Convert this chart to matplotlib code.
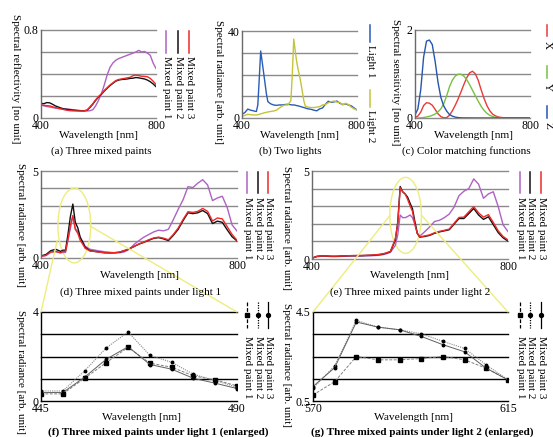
import matplotlib
matplotlib.use("Agg")
import matplotlib.pyplot as plt
from matplotlib.lines import Line2D
from matplotlib.patches import Ellipse, ConnectionPatch
import numpy as np

# ---------------- data ----------------
# (a) spectral reflectivity, 10 nm grid
wl_a = list(range(400, 801, 10))
refl_paint1 = [0.12, 0.11, 0.105, 0.10, 0.095, 0.09, 0.087, 0.085, 0.085, 0.083, 0.08, 0.075, 0.07,
               0.068, 0.066, 0.064, 0.064, 0.066, 0.075, 0.11, 0.16, 0.22, 0.30, 0.39, 0.46, 0.50,
               0.525, 0.54, 0.55, 0.56, 0.57, 0.58, 0.59, 0.60, 0.615, 0.60, 0.605, 0.59, 0.57, 0.50, 0.45]
refl_paint2 = [0.133, 0.13, 0.14, 0.138, 0.125, 0.11, 0.10, 0.09, 0.082, 0.078, 0.074, 0.072, 0.07,
               0.068, 0.066, 0.066, 0.07, 0.095, 0.125, 0.16, 0.19, 0.215, 0.245, 0.27, 0.295, 0.315,
               0.335, 0.345, 0.35, 0.352, 0.355, 0.36, 0.362, 0.368, 0.365, 0.36, 0.355, 0.345, 0.33, 0.31, 0.285]
refl_paint3 = [0.12, 0.115, 0.112, 0.11, 0.102, 0.095, 0.088, 0.082, 0.076, 0.07, 0.067, 0.065, 0.064,
               0.064, 0.064, 0.065, 0.072, 0.10, 0.13, 0.165, 0.195, 0.22, 0.25, 0.275, 0.30, 0.32,
               0.34, 0.35, 0.355, 0.36, 0.365, 0.37, 0.385, 0.39, 0.385, 0.38, 0.378, 0.375, 0.36, 0.335, 0.305]

# (b) two lights
wl_light = [400, 410, 420, 430, 440, 445, 450, 455, 460, 465, 470, 475, 480, 485, 490,
            500, 510, 520, 530, 540, 550, 560, 570, 575, 580, 585, 590, 595, 600, 605, 610, 615,
            620, 630, 640, 650, 660, 670, 680, 690, 700, 710, 720, 730, 740, 750, 760, 770, 780, 790, 800]
light1 = [1.7, 2.5, 4.1, 3.6, 3.3, 3.1, 3.0, 6.0, 18.0, 30.8, 26.0, 21.0, 16.0, 11.0, 7.5,
          6.5, 6.0, 5.8, 6.0, 6.0, 6.2, 6.3, 6.1, 6.0, 6.0, 5.9, 5.7, 5.6, 5.4, 5.2, 5.0, 4.8,
          4.6, 4.2, 4.0, 3.6, 3.3, 4.2, 4.6, 6.3, 7.7, 7.2, 7.4, 7.8, 6.8, 6.2, 6.5, 6.0, 5.6, 4.6, 3.7]
light2 = [0.8, 1.2, 1.7, 1.5, 1.4, 1.4, 1.4, 1.5, 1.7, 1.9, 2.1, 2.3, 2.5, 2.6, 2.8,
          3.0, 3.2, 3.6, 4.6, 5.5, 6.0, 6.0, 8.0, 20.0, 36.3, 31.0, 26.0, 22.5, 19.5, 16.0, 12.0, 8.0,
          5.5, 5.0, 4.8, 4.8, 5.0, 5.2, 6.0, 6.2, 7.0, 7.5, 7.8, 7.3, 7.2, 6.0, 6.8, 6.2, 5.0, 4.2, 3.7]

# (c) colour matching functions
wl_c = list(range(400, 801, 10))
cmf_x = [0.0143, 0.0435, 0.1344, 0.2839, 0.3483, 0.3362, 0.2908, 0.1954, 0.0956, 0.0320, 0.0049,
         0.0093, 0.0633, 0.1655, 0.2904, 0.4334, 0.5945, 0.7621, 0.9163, 1.0263, 1.0622, 1.0026,
         0.8544, 0.6424, 0.4479, 0.2835, 0.1649, 0.0874, 0.0468, 0.0227, 0.0114, 0.0058, 0.0029,
         0.0014, 0.0007, 0.0003, 0.0002, 0.0001, 0.0, 0.0, 0.0]
cmf_y = [0.0004, 0.0012, 0.0040, 0.0116, 0.0230, 0.0380, 0.0600, 0.0910, 0.1390, 0.2080, 0.3230,
         0.5030, 0.7100, 0.8620, 0.9540, 0.9950, 0.9950, 0.9520, 0.8700, 0.7570, 0.6310, 0.5030,
         0.3810, 0.2650, 0.1750, 0.1070, 0.0610, 0.0320, 0.0170, 0.0082, 0.0041, 0.0021, 0.0010,
         0.0005, 0.0002, 0.0001, 0.0, 0.0, 0.0, 0.0, 0.0]
cmf_z = [0.0679, 0.2074, 0.6456, 1.3856, 1.7471, 1.7721, 1.6692, 1.2876, 0.8130, 0.4652, 0.2720,
         0.1582, 0.0783, 0.0422, 0.0203, 0.0088, 0.0039, 0.0021, 0.0017, 0.0011, 0.0008, 0.0003,
         0.0002, 0.0, 0.0, 0.0, 0.0, 0.0, 0.0, 0.0, 0.0, 0.0, 0.0, 0.0, 0.0, 0.0, 0.0, 0.0, 0.0, 0.0, 0.0]

# (d)/(f) paints under light 1
wl_d_lo = [400, 410, 420, 430, 440]
wl_f = [445, 450, 455, 460, 465, 470, 475, 480, 485, 490]
wl_d_hi = list(range(500, 801, 10))
d_lo_paint1 = [0.10, 0.14, 0.33, 0.36, 0.30]
d_lo_paint2 = [0.12, 0.20, 0.42, 0.50, 0.38]
d_lo_paint3 = [0.10, 0.15, 0.35, 0.38, 0.30]
f_paint1 = [0.32, 0.32, 1.02, 1.73, 2.41, 1.70, 1.52, 1.13, 0.95, 0.68]
f_paint2 = [0.45, 0.45, 1.35, 2.39, 3.10, 2.05, 1.74, 1.20, 0.92, 0.62]
f_paint3 = [0.38, 0.38, 1.07, 1.88, 2.44, 1.64, 1.43, 1.02, 0.80, 0.56]
d_hi_paint1 = [0.50, 0.45, 0.40, 0.36, 0.33, 0.30, 0.30, 0.35, 0.50, 0.78, 1.00, 1.20, 1.35, 1.50, 1.60,
               1.56, 1.65, 2.20, 2.80, 3.35, 4.10, 4.05, 4.30, 4.50, 4.20, 3.30, 3.45, 3.55, 2.90, 1.90, 1.55]
d_hi_paint2 = [0.42, 0.38, 0.34, 0.30, 0.29, 0.30, 0.33, 0.42, 0.52, 0.66, 0.80, 0.90, 1.02, 1.13, 1.17,
               1.10, 1.00, 1.30, 1.65, 2.15, 2.60, 2.55, 2.60, 2.73, 2.55, 1.98, 2.12, 2.05, 1.62, 1.22, 0.98]
d_hi_paint3 = [0.40, 0.37, 0.33, 0.30, 0.30, 0.31, 0.34, 0.43, 0.53, 0.67, 0.81, 0.92, 1.05, 1.15, 1.20,
               1.14, 1.05, 1.35, 1.72, 2.22, 2.66, 2.62, 2.68, 2.85, 2.68, 2.13, 2.30, 2.25, 1.80, 1.35, 1.02]

# (e)/(g) paints under light 2
wl_e_lo = list(range(400, 561, 10))
wl_g = [570, 575, 580, 585, 590, 595, 600, 605, 610, 615]
wl_e_hi = list(range(620, 801, 10))
e_lo_paint1 = [0.05, 0.13, 0.16, 0.15, 0.14, 0.14, 0.15, 0.16, 0.17, 0.17, 0.17, 0.18, 0.18, 0.20, 0.22, 0.28, 0.38]
e_lo_paint2 = [0.05, 0.15, 0.18, 0.17, 0.15, 0.15, 0.17, 0.18, 0.19, 0.19, 0.19, 0.20, 0.21, 0.23, 0.26, 0.32, 0.42]
e_lo_paint3 = [0.05, 0.15, 0.18, 0.17, 0.16, 0.16, 0.17, 0.18, 0.19, 0.20, 0.20, 0.21, 0.22, 0.24, 0.27, 0.33, 0.43]
g_paint1 = [0.77, 1.37, 2.50, 2.35, 2.35, 2.41, 2.50, 2.35, 1.97, 1.45]
g_paint2 = [1.07, 2.08, 4.12, 3.82, 3.70, 3.52, 3.18, 2.86, 2.12, 1.45]
g_paint3 = [1.15, 2.00, 4.05, 3.82, 3.70, 3.40, 3.03, 2.71, 1.97, 1.45]
e_hi_paint1 = [1.30, 1.55, 1.82, 2.13, 2.20, 2.35, 2.55, 2.95, 3.60, 3.85, 4.00, 4.55, 4.25, 3.45, 3.70,
               3.82, 2.98, 1.94, 1.56]
e_hi_paint2 = [1.24, 1.28, 1.34, 1.46, 1.54, 1.60, 1.66, 1.98, 2.30, 2.30, 2.58, 2.87, 2.50, 2.25, 2.40,
               1.95, 1.50, 1.20, 1.02]
e_hi_paint3 = [1.26, 1.31, 1.37, 1.49, 1.57, 1.63, 1.70, 2.03, 2.36, 2.38, 2.68, 2.98, 2.62, 2.38, 2.52,
               2.08, 1.60, 1.28, 1.08]

paint_labels = ["Mixed paint 1", "Mixed paint 2", "Mixed paint 3"]
light_labels = ["Light 1", "Light 2"]
cmf_labels = ["X", "Y", "Z"]

# ---------------- style ----------------
C_PURPLE = "#ae62c2"
C_BLACK = "#111111"
C_RED = "#f02828"
C_BLUE = "#2a5cb8"
C_YEL = "#c4c43a"
C_X = "#e83a3a"
C_Y = "#78c043"
C_Z = "#2655b0"
C_HL = "#eded7e"
paint_colors = [C_PURPLE, C_BLACK, C_RED]

plt.rcParams["font.family"] = ["Liberation Serif", "DejaVu Serif"]
FS = 8

W, H = 553, 437
fig = plt.figure(figsize=(W / 100, H / 100), dpi=100)


def make_ax(l, t, r, b):
    return fig.add_axes([l / W, 1 - b / H, (r - l) / W, (b - t) / H])


def ftext(x, y, s, **kw):
    kw.setdefault("fontsize", FS)
    return fig.text(x / W, 1 - y / H, s, **kw)


def fline(x0, y0, x1, y1, **kw):
    fig.add_artist(Line2D([x0 / W, x1 / W], [1 - y0 / H, 1 - y1 / H],
                          transform=fig.transFigure, **kw))


def style(ax, xlim, ylim, ystep, ylabels, gcol="#8a8a8a", scol="#6a6a6a"):
    ax.set_xlim(*xlim)
    ax.set_ylim(*ylim)
    levels = np.arange(ylim[0], ylim[1] + ystep / 2, ystep)
    ax.set_yticks(levels)
    ax.set_yticklabels([ylabels[0]] + [""] * (len(levels) - 2) + [ylabels[1]])
    ax.set_xticks(list(xlim))
    ax.set_xticklabels([str(v) for v in xlim])
    ax.tick_params(axis="y", length=0, labelsize=FS + 0.5, pad=2)
    ax.tick_params(axis="x", length=0, labelsize=FS + 0.5, pad=1.5)
    for s in ["top", "right", "bottom"]:
        ax.spines[s].set_visible(False)
    ax.spines["left"].set_color(scol)
    ax.spines["left"].set_linewidth(1.0)
    ax.yaxis.grid(True, color=gcol, lw=1.0)
    for gl in ax.get_ygridlines():
        gl.set_clip_on(False)
    ax.set_axisbelow(True)
    ax.patch.set_visible(False)


ax_a = make_ax(41, 30, 156, 118)
ax_b = make_ax(242, 31, 357, 118)
ax_c = make_ax(415, 30, 530, 118)
ax_d = make_ax(41, 171, 237, 258)
ax_e = make_ax(312, 171, 508, 259)
ax_f = make_ax(41, 312, 237, 401)
ax_g = make_ax(313, 312, 508, 401)

# (a)
for vals, col in zip([refl_paint1, refl_paint2, refl_paint3], paint_colors):
    ax_a.plot(wl_a, vals, color=col, lw=1.0)
style(ax_a, (400, 800), (0, 0.8), 0.2, ["0", "0.8"])

# (b)
ax_b.plot(wl_light, light1, color=C_BLUE, lw=1.0)
ax_b.plot(wl_light, light2, color=C_YEL, lw=1.0)
style(ax_b, (400, 800), (0, 40), 10, ["0", "40"])

# (c)
ax_c.plot(wl_c, cmf_x, color=C_X, lw=1.0)
ax_c.plot(wl_c, cmf_y, color=C_Y, lw=1.0)
ax_c.plot(wl_c, cmf_z, color=C_Z, lw=1.0)
style(ax_c, (400, 800), (0, 2), 0.5, ["0", "2"])

# (d)
wl_d = wl_d_lo + wl_f + wl_d_hi
d_series = [d_lo_paint1 + f_paint1 + d_hi_paint1,
            d_lo_paint2 + f_paint2 + d_hi_paint2,
            d_lo_paint3 + f_paint3 + d_hi_paint3]
for vals, col in zip(d_series, paint_colors):
    ax_d.plot(wl_d, vals, color=col, lw=1.0)
style(ax_d, (400, 800), (0, 5), 1, ["0", "5"])

# (e)
wl_e = wl_e_lo + wl_g + wl_e_hi
e_series = [e_lo_paint1 + g_paint1 + e_hi_paint1,
            e_lo_paint2 + g_paint2 + e_hi_paint2,
            e_lo_paint3 + g_paint3 + e_hi_paint3]
for vals, col in zip(e_series, paint_colors):
    ax_e.plot(wl_e, vals, color=col, lw=1.0)
style(ax_e, (400, 800), (0, 5), 1, ["0", "5"])

# (f), (g) enlarged
enl_styles = [dict(ls=(0, (3, 1.5)), marker="s", ms=2.2, color="#808080", lw=0.7),
              dict(ls=(0, (1, 1)), marker="o", ms=1.8, color="#8a8a8a", lw=0.8),
              dict(ls="-", marker="o", ms=1.8, color="#606060", lw=0.7)]
for vals, st in zip([f_paint1, f_paint2, f_paint3], enl_styles):
    ax_f.plot(wl_f, vals, mfc="black", mec="black", **st)
style(ax_f, (445, 490), (0, 4), 1, ["0", "4"], gcol="black", scol="black")
for vals, st in zip([g_paint1, g_paint2, g_paint3], enl_styles):
    ax_g.plot(wl_g, vals, mfc="black", mec="black", **st)
style(ax_g, (570, 615), (0.5, 4.5), 1, ["0.5", "4.5"], gcol="black", scol="black")

# ---------------- labels ----------------
ylab = dict(rotation=270, ha="center", va="center")
ftext(16, 79, "Spectral reflectivity [no unit]", **ylab)
ftext(219, 82, "Spectral radiance [arb. unit]", **ylab)
ftext(396, 82, "Spectral sensitivity [no unit]", **ylab)
ftext(20, 225, "Spectral radiance [arb. unit]", **ylab)
ftext(287, 228, "Spectral radiance [arb. unit]", **ylab)
ftext(20, 372, "Spectral radiance [arb. unit]", **ylab)
ftext(287, 365, "Spectral radiance [arb. unit]", **ylab)

xl = dict(ha="center", va="center", fontsize=FS + 0.2)
ftext(99, 136, "Wavelength [nm]", **xl)
ftext(300, 136, "Wavelength [nm]", **xl)
ftext(473, 136, "Wavelength [nm]", **xl)
ftext(139, 276, "Wavelength [nm]", **xl)
ftext(410, 275, "Wavelength [nm]", **xl)
ftext(142, 417, "Wavelength [nm]", **xl)
ftext(413, 417, "Wavelength [nm]", **xl)

cap = dict(ha="center", va="center", fontsize=FS)
ftext(101, 151, "(a) Three mixed paints", **cap)
ftext(290, 151, "(b) Two lights", **cap)
ftext(466, 151, "(c) Color matching functions", **cap)
ftext(141, 292, "(d) Three mixed paints under light 1", **cap)
ftext(410, 292, "(e) Three mixed paints under light 2", **cap)
ftext(158, 432, "(f) Three mixed paints under light 1 (enlarged)", fontweight="bold", **cap)
ftext(422, 432, "(g) Three mixed paints under light 2 (enlarged)", fontweight="bold", **cap)

# ---------------- rotated legends ----------------
leg = dict(rotation=270, ha="center", va="top")


def paint_legend(xs, y0, y1, ty, with_markers=False):
    for i, (x, lab) in enumerate(zip(xs, paint_labels)):
        if with_markers:
            st = enl_styles[i]
            fig.add_artist(Line2D([x / W, x / W], [1 - y0 / H, 1 - y1 / H], transform=fig.transFigure,
                                  ls=st["ls"], color="black", lw=0.9))
            fig.add_artist(Line2D([x / W], [1 - (y0 + y1) / 2 / H], transform=fig.transFigure,
                                  marker=st["marker"], ms=st["ms"] + 1.0, color="black", ls="none"))
        else:
            fline(x, y0, x, y1, color=paint_colors[i], lw=1.1)
        ftext(x + 0.5, ty, lab, **leg)


paint_legend([166, 178, 189], 31, 53, 56)
paint_legend([247, 258, 268], 172, 193, 197)
paint_legend([520, 530, 541], 172, 193, 197)
paint_legend([247, 258, 268], 302, 328, 336, with_markers=True)
paint_legend([520, 530, 541], 302, 328, 336, with_markers=True)

# (b) legend
fline(370, 25, 370, 42, color=C_BLUE, lw=1.1)
ftext(370.5, 45, light_labels[0], **leg)
fline(370, 90, 370, 107, color=C_YEL, lw=1.1)
ftext(370.5, 110, light_labels[1], **leg)
# (c) legend
for (y0, y1, ty), col, lab in zip([(25, 36, 41), (66, 78, 83), (106, 118, 122)], [C_X, C_Y, C_Z], cmf_labels):
    fline(547, y0, 547, y1, color=col, lw=1.1)
    ftext(547.5, ty, lab, **leg)

# ---------------- highlight ellipses + connectors ----------------
ax_d.add_patch(Ellipse((468, 1.87), 67, 4.3, fill=False, ec=C_HL, lw=1.0, clip_on=False))
ax_e.add_patch(Ellipse((591, 2.48), 64.5, 4.32, fill=False, ec=C_HL, lw=1.0, clip_on=False))
for axs, p, axt, q in [(ax_d, (433, 1.0), ax_f, (0, 1)), (ax_d, (500, 1.84), ax_f, (1, 1)),
                       (ax_e, (558.6, 2.46), ax_g, (0, 1)), (ax_e, (623, 2.5), ax_g, (1, 1))]:
    cp = ConnectionPatch(xyA=p, coordsA=axs.transData, xyB=q, coordsB=axt.transAxes,
                         color=C_HL, lw=1.0)
    fig.add_artist(cp)

fig.savefig("out.png", dpi=100)
